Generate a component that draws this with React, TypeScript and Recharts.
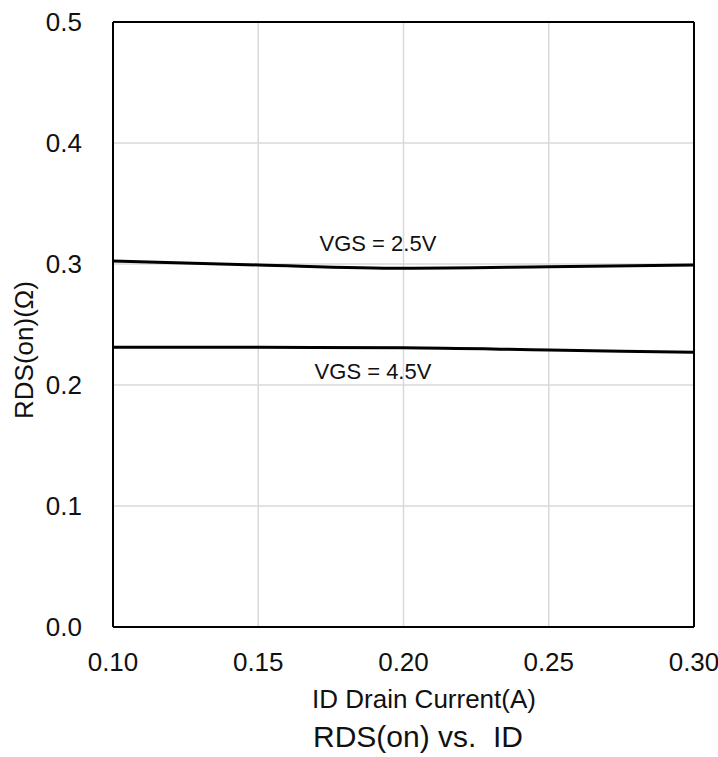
import React from 'react';
import { LineChart, Line, XAxis, YAxis, CartesianGrid, ReferenceLine, ReferenceDot } from 'recharts';

const FONT = '"Liberation Sans", Arial, sans-serif';

// drain current (A)
const idValues = [0.1, 0.15, 0.2, 0.25, 0.3];
// RDS(on) (ohm) per gate voltage
const rdsVgs25 = [0.3025, 0.2992, 0.2965, 0.2977, 0.2992];
const rdsVgs45 = [0.2311, 0.2311, 0.2308, 0.2289, 0.227];

const xTicks = [0.1, 0.15, 0.2, 0.25, 0.3];
const yTicks = [0, 0.1, 0.2, 0.3, 0.4, 0.5];

const curveLabels = [
  { text: 'VGS = 2.5V', x: 0.1912, y: 0.3174 },
  { text: 'VGS = 4.5V', x: 0.1895, y: 0.2116 },
];

const data = idValues.map((id, i) => ({ id, v25: rdsVgs25[i], v45: rdsVgs45[i] }));

const W = 718;
const H = 757;

export default function App() {
  return (
    <div style={{ position: 'absolute', left: 0, top: 0, width: W, height: H, background: '#fff', fontFamily: FONT }}>
      <LineChart width={W} height={H} data={data} margin={{ top: 22, right: 24, left: 0, bottom: 0 }}>
        <CartesianGrid stroke="#d9d9d9" strokeWidth={1.5} />
        <XAxis
          dataKey="id"
          type="number"
          domain={[0.1, 0.3]}
          ticks={xTicks}
          tickFormatter={(v: number) => v.toFixed(2)}
          height={130}
          tickSize={0}
          tickMargin={26}
          axisLine={{ stroke: '#000', strokeWidth: 2 }}
          tick={{ fill: '#111', fontSize: 26, fontFamily: FONT }}
        />
        <YAxis
          type="number"
          domain={[0, 0.5]}
          ticks={yTicks}
          tickFormatter={(v: number) => v.toFixed(1)}
          width={113}
          tickSize={0}
          tickMargin={31}
          axisLine={{ stroke: '#000', strokeWidth: 2 }}
          tick={{ fill: '#111', fontSize: 26, fontFamily: FONT }}
        />
        <ReferenceLine y={0.5} stroke="#000" strokeWidth={2} />
        <ReferenceLine x={0.3} stroke="#000" strokeWidth={2} />
        <Line type="monotone" dataKey="v25" stroke="#000" strokeWidth={3} dot={false} isAnimationActive={false} />
        <Line type="monotone" dataKey="v45" stroke="#000" strokeWidth={3} dot={false} isAnimationActive={false} />
        {curveLabels.map((l) => (
          <ReferenceDot
            key={l.text}
            x={l.x}
            y={l.y}
            r={0}
            stroke="none"
            fill="none"
            label={{ value: l.text, position: 'center', fill: '#111', fontSize: 22, fontFamily: FONT }}
          />
        ))}
      </LineChart>
      <svg width={W} height={H} style={{ position: 'absolute', left: 0, top: 0, pointerEvents: 'none' }}>
        <text x={33} y={350} transform="rotate(-90, 33, 350)" textAnchor="middle" fontSize={26} fontFamily={FONT} fill="#111">
          RDS(on)(Ω)
        </text>
        <text x={424} y={708} textAnchor="middle" fontSize={26} fontFamily={FONT} fill="#111">
          ID Drain Current(A)
        </text>
        <text x={418} y={747} textAnchor="middle" fontSize={30} fontFamily={FONT} fill="#111" style={{ whiteSpace: 'pre' }}>
          RDS(on) vs.  ID
        </text>
      </svg>
    </div>
  );
}
